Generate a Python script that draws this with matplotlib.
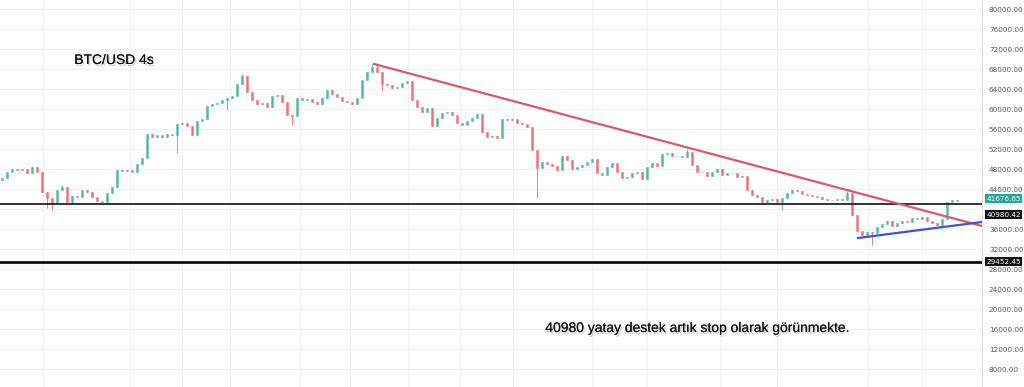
import numpy as np
import matplotlib
matplotlib.use("Agg")
import matplotlib.pyplot as plt
import matplotlib.patheffects as pe

# BTC/USD 4h closes, in thousands
closes = [
    46.2, 47.4, 48.0, 47.8, 48.0, 47.2, 48.4, 47.4, 43.4, 42.2,
    41.2, 43.8, 44.4, 41.4, 42.6, 42.4, 43.8, 43.4, 42.4, 41.6,
    41.4, 43.2, 44.4, 47.8, 47.6, 47.8, 47.4, 49.0, 50.2, 55.0,
    54.4, 54.8, 54.4, 55.0, 54.8, 57.0, 57.2, 56.6, 54.8, 57.6,
    58.0, 60.6, 61.0, 61.2, 61.8, 62.2, 62.6, 65.0, 66.6, 63.4,
    61.8, 61.0, 61.2, 60.4, 62.6, 62.8, 61.4, 58.8, 58.6, 62.2,
    61.8, 62.0, 61.4, 61.0, 62.2, 63.8, 63.0, 62.4, 61.6, 61.4,
    61.0, 62.2, 65.8, 67.4, 68.4, 67.4, 65.0, 64.8, 64.2, 64.4,
    65.2, 65.6, 61.8, 60.4, 59.4, 60.2, 56.6, 58.2, 59.2, 59.4,
    58.8, 57.2, 56.8, 57.6, 58.2, 59.0, 55.4, 54.4, 54.6, 54.2,
    58.0, 57.8, 58.0, 57.2, 57.0, 56.4, 51.8, 48.2, 49.4, 49.0,
    48.6, 47.8, 50.6, 49.8, 48.0, 48.4, 48.8, 49.4, 50.0, 47.2,
    46.8, 48.4, 49.2, 47.4, 46.2, 46.4, 47.2, 47.4, 46.0, 48.4,
    49.2, 48.6, 51.0, 51.2, 50.6, 50.6, 50.4, 51.4, 48.8, 47.4,
    47.4, 46.6, 47.4, 48.0, 46.8, 47.2, 47.2, 46.4, 46.6, 43.8,
    42.8, 42.4, 41.4, 41.8, 42.0, 41.4, 42.2, 43.2, 43.8, 43.6,
    43.0, 42.8, 42.6, 42.4, 42.0, 41.8, 41.8, 42.0, 41.8, 43.2,
    38.8, 35.6, 34.8, 35.4, 35.2, 36.4, 37.0, 37.6, 36.6, 37.2,
    37.6, 37.4, 38.2, 38.0, 38.4, 37.6, 37.2, 36.8, 38.0, 41.4,
    41.8, 41.68,
]
first_open = 45.8
# visible long wicks: candle index -> price (thousands)
spike_lows = {9: 40.2, 10: 39.8, 35: 51.2, 45: 59.8, 58: 56.8, 76: 63.6,
              107: 42.2, 156: 39.8, 174: 32.8}
spike_highs = {12: 44.8, 48: 67.0, 74: 69.0, 75: 69.2, 137: 52.0, 169: 43.6}

# horizontal levels and trend lines
support_1 = 40980.42
support_2 = 29452.45
last_price = 41676.65
red_line_x = [74.4, 196]
red_line_y = [69000, 36600]
blue_line_x = [171.2, 196]
blue_line_y = [34200, 37400]

yticks = list(range(8000, 80001, 4000))
vgrid = [8.2, 25.6, 36, 45.6, 59.6, 69.6, 81.2, 91.6, 102.2, 118, 129,
         143.6, 155, 173.2, 184]

c = np.array(closes) * 1000
o = np.concatenate([[first_open * 1000], c[:-1]])
x = np.arange(len(c))
hi = np.maximum(o, c)
lo = np.minimum(o, c)
for k, v in spike_lows.items():
    lo[k] = v * 1000
for k, v in spike_highs.items():
    hi[k] = v * 1000

up = "#4cb5a3"
down = "#ec6b73"
cols = [up if cc >= oo else down for oo, cc in zip(o, c)]

fig = plt.figure(figsize=(10.24, 3.87), dpi=100)
ax = fig.add_axes([0, 0, 982 / 1024, 1])

ax.set_xlim(-0.4, 196)
ax.set_ylim(4400, 81800)

ax.set_yticks(yticks)
ax.grid(axis="y", color="#f1f1f1", lw=0.8)
for g in vgrid:
    ax.axvline(g, color="#f1f1f1", lw=0.8, zorder=0)

# wicks, then bodies
ax.vlines(x, lo, hi, colors=cols, lw=0.7, alpha=0.85, zorder=2)
ax.bar(x, np.abs(c - o), bottom=np.minimum(o, c),
       width=0.32, color=cols, edgecolor=cols, lw=0.4, alpha=0.85, zorder=3)

ax.axhline(support_1, color="#111111", lw=1.2, zorder=4)
ax.axhline(support_2, color="#111111", lw=2.0, zorder=4)
ax.plot(red_line_x, red_line_y, color="#d9596a", lw=1.6, zorder=5)
ax.plot(blue_line_x, blue_line_y, color="#3b55d4", lw=1.6, zorder=5)

ax.yaxis.tick_right()
ax.tick_params(axis="y", length=0, pad=5, labelsize=5.2, labelcolor="#555555")
# the 40000 label sits under the price tags
ax.set_yticklabels(["" if t == 40000 else f"{t:.2f}" for t in yticks])
ax.set_xticks([])
for s in ["top", "left", "bottom"]:
    ax.spines[s].set_visible(False)
ax.spines["right"].set_color("#dddddd")

def price_tag(val, color, dy=0):
    ax.annotate(f"{val:.2f}", xy=(1.0, val), xycoords=("axes fraction", "data"),
                xytext=(3, dy), textcoords="offset points", va="center", ha="left",
                fontsize=5.2, color="white", zorder=10, annotation_clip=False,
                bbox=dict(boxstyle="square,pad=0.2", fc=color, ec="none"))

price_tag(last_price, "#26a69a", dy=1.5)
price_tag(support_1, "#111111", dy=-7.5)
price_tag(support_2, "#111111")

shadow = [pe.withSimplePatchShadow(offset=(1, -1.5), shadow_rgbFace="#999999", alpha=0.45), pe.Normal()]
fig.text(114 / 1024, 1 - 60 / 387, "BTC/USD 4s", fontsize=10, family="Liberation Sans",
         ha="center", va="center", color="#111111", path_effects=shadow)
fig.text(698 / 1024, 1 - 328 / 387, "40980 yatay destek artık stop olarak görünmekte.",
         fontsize=10, family="Liberation Sans", ha="center", va="center",
         color="#111111", path_effects=shadow)

fig.savefig("out.png", dpi=100)
